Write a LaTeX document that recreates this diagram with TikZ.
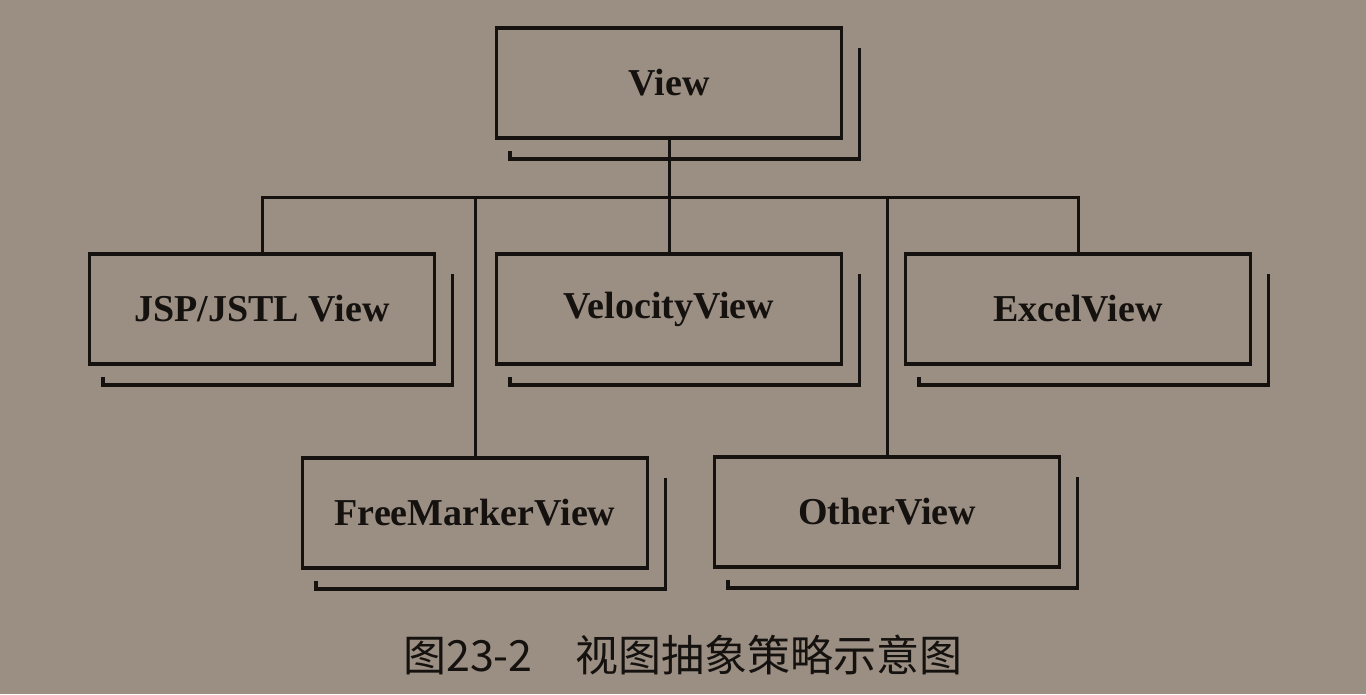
\documentclass[tikz,border=0pt]{standalone}
\usepackage{fontspec}
\setmainfont{Liberation Serif}
\newfontfamily\cjk{Noto Sans CJK SC}
\usepackage{tikz}
\usetikzlibrary{positioning,calc}
\definecolor{paper}{RGB}{155,143,131}
\definecolor{ink}{RGB}{20,17,15}
\tikzset{viewbox/.style={draw=ink,line width=3.5pt,minimum width=345pt,minimum height=110pt,inner sep=0pt,text=ink,font=\bfseries\fontsize{38}{40}\selectfont}}
\tikzset{shadowline/.style={draw=ink,line width=3.5pt}}

\begin{document}
\begin{tikzpicture}[x=1pt, y=-1pt, line width=3pt, draw=ink]
        \fill[paper] (0,0) rectangle (1366,694);
        \useasboundingbox (0,0) rectangle (1366,694);
        \node[viewbox] (view) at (669,83) {View};
        \node[viewbox] (jsp) at (262,309) {JSP/JSTL View};
        \node[viewbox] (vel) at (669,309) {VelocityView};
        \node[viewbox] (excel) at (1078,309) {ExcelView};
        \node[viewbox] (fm) at (475,513) {FreeMarkerView};
        \node[viewbox] (other) at (887,512) {OtherView};
        \coordinate (bus) at (0,197);
        % L-shaped shadows
        \foreach \n in {view,jsp,vel,excel,fm,other}
          \draw[shadowline] ([shift={(16,22)}]\n.north east) -- ([shift={(16,19)}]\n.south east) -- ([shift={(15,19)}]\n.south west) -- ++(0,-8);
        \draw[ink] (view.south) -- (view.south |- bus);
        \draw[ink] (jsp.north) -- (jsp.north |- bus) -- (excel.north |- bus) -- (excel.north);
        \foreach \n in {fm,vel,other}
          \draw[ink] (\n.north) -- (\n.north |- bus);
        \node[text=ink,font=\cjk\fontsize{43}{45}\selectfont] (caption) at (683,655) {图23-2　视图抽象策略示意图};
\end{tikzpicture}
\end{document}
